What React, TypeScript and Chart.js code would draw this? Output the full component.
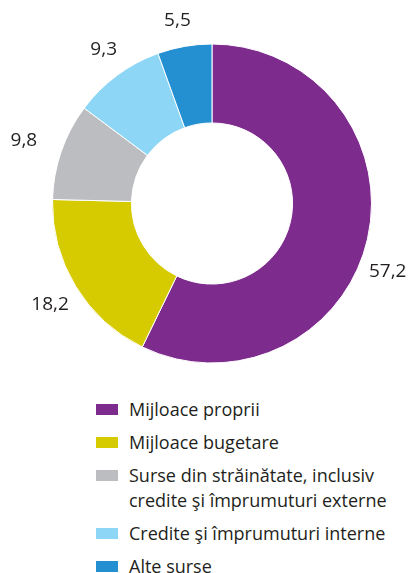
import React, { useEffect, useRef } from "react";
import { Chart, registerables } from "chart.js";

Chart.register(...registerables);

const categories = [
  "Mijloace proprii",
  "Mijloace bugetare",
  "Surse din străinătate, inclusiv credite şi împrumuturi externe",
  "Credite şi împrumuturi interne",
  "Alte surse",
];
const values = [57.2, 18.2, 9.8, 9.3, 5.5];
const valueLabels = ["57,2", "18,2", "9,8", "9,3", "5,5"];
const colors = ["#7e2b8e", "#d6ca00", "#bcbdc0", "#8ed6f5", "#2590d1"];

const FONT = "'Open Sans', 'Noto Sans', sans-serif";

const outerLabels = {
  id: "outerLabels",
  afterDatasetsDraw(chart: any, _args: any, opts: any) {
    const ctx = chart.ctx;
    const meta = chart.getDatasetMeta(0);
    ctx.save();
    ctx.font = `19px ${FONT}`;
    ctx.fillStyle = "#231f20";
    ctx.textAlign = "center";
    ctx.textBaseline = "middle";
    meta.data.forEach((arc: any, i: number) => {
      const p = arc.getProps(["x", "y", "startAngle", "endAngle", "outerRadius"], true);
      const mid = (p.startAngle + p.endAngle) / 2;
      const r = p.outerRadius + opts.gap;
      const n = opts.nudge[i] || [0, 0];
      const x = p.x + Math.cos(mid) * r + n[0];
      const y = p.y + Math.sin(mid) * r + n[1];
      ctx.fillText(valueLabels[i], x, y);
    });
    ctx.restore();
  },
};

export default function App() {
  const ref = useRef<HTMLCanvasElement | null>(null);
  useEffect(() => {
    if (!ref.current) return;
    const chart = new Chart(ref.current, {
      type: "doughnut",
      data: {
        labels: categories,
        datasets: [
          {
            data: values,
            backgroundColor: colors,
            borderColor: "#ffffff",
            borderWidth: 1,
          },
        ],
      },
      options: {
        animation: false,
        responsive: false,
        cutout: "50.5%",
        layout: { padding: { left: 52, right: 38, top: 43.5, bottom: 26.5 } },
        plugins: {
          legend: { display: false },
          tooltip: { enabled: false },
          outerLabels: {
            gap: 30,
            nudge: [
              [-9, 26],
              [0, 3],
              [-9, -1],
              [4.5, -1.5],
              [-2, 4],
            ],
          },
        } as any,
      },
      plugins: [outerLabels],
    });
    return () => chart.destroy();
  }, []);

  return (
    <div
      style={{
        position: "absolute",
        left: 0,
        top: 0,
        width: 410,
        height: 573,
        background: "#fff",
        overflow: "hidden",
      }}
    >
      <canvas ref={ref} width={410} height={390} style={{ display: "block" }} />
      <div
        style={{
          position: "absolute",
          left: 96,
          top: 396.5,
          fontFamily: FONT,
          fontSize: 18,
          color: "#231f20",
        }}
      >
        {categories.map((c, i) => (
          <div
            key={c}
            style={{ display: "flex", alignItems: "flex-start", marginBottom: 8 }}
          >
            <div
              style={{
                width: 22,
                height: 11,
                background: colors[i],
                marginTop: 7,
                marginRight: 11,
                flex: "none",
              }}
            />
            <div style={{ lineHeight: "25px", width: 280 }}>{c}</div>
          </div>
        ))}
      </div>
    </div>
  );
}
